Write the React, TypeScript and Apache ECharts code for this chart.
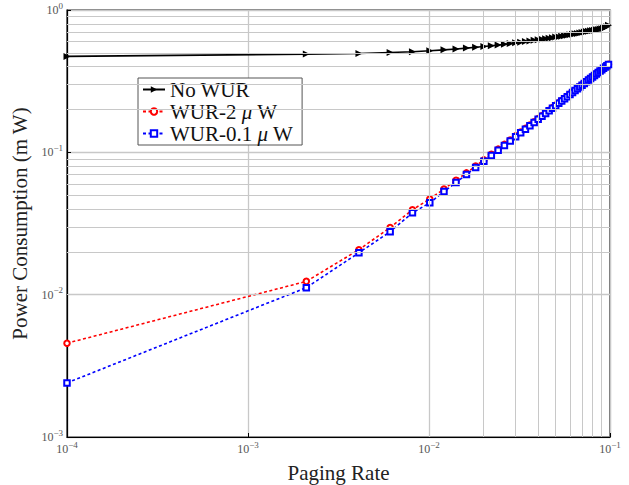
import React, { useEffect, useRef } from "react";
import * as echarts from "echarts";

const pagingRate = [0.0001, 0.0021, 0.0041, 0.0061, 0.0081, 0.0101, 0.0121, 0.0141, 0.0161, 0.0181, 0.0201, 0.0221, 0.0241, 0.0261, 0.0281, 0.0301, 0.0321, 0.0341, 0.0361, 0.0381, 0.0401, 0.0421, 0.0441, 0.0461, 0.0481, 0.0501, 0.0521, 0.0541, 0.0561, 0.0581, 0.0601, 0.0621, 0.0641, 0.0661, 0.0681, 0.0701, 0.0721, 0.0741, 0.0761, 0.0781, 0.0801, 0.0821, 0.0841, 0.0861, 0.0881, 0.0901, 0.0921, 0.0941, 0.0961, 0.0981];

const noWur = [0.472, 0.490, 0.495, 0.503, 0.509, 0.517, 0.525, 0.532, 0.540, 0.547, 0.554, 0.561, 0.568, 0.575, 0.581, 0.588, 0.594, 0.600, 0.606, 0.612, 0.618, 0.623, 0.628, 0.634, 0.639, 0.645, 0.650, 0.655, 0.660, 0.665, 0.670, 0.675, 0.680, 0.685, 0.690, 0.695, 0.700, 0.705, 0.710, 0.714, 0.718, 0.722, 0.726, 0.730, 0.734, 0.739, 0.745, 0.752, 0.762, 0.780];

const wur2 = [0.00456, 0.0124, 0.0207, 0.0296, 0.0395, 0.0470, 0.0553, 0.0637, 0.0717, 0.0801, 0.0885, 0.0969, 0.1053, 0.1137, 0.1221, 0.1305, 0.1389, 0.1473, 0.1557, 0.1641, 0.1725, 0.1809, 0.1893, 0.1977, 0.2061, 0.2145, 0.2229, 0.2313, 0.2397, 0.2481, 0.2565, 0.2649, 0.2733, 0.2817, 0.2901, 0.2985, 0.3069, 0.3153, 0.3237, 0.3321, 0.3405, 0.3489, 0.3573, 0.3657, 0.3741, 0.3825, 0.3909, 0.3993, 0.4077, 0.4161];

const wur01 = [0.0024, 0.0112, 0.0197, 0.0277, 0.0376, 0.0442, 0.0530, 0.0614, 0.0698, 0.0782, 0.0866, 0.0950, 0.1034, 0.1118, 0.1202, 0.1286, 0.1370, 0.1454, 0.1538, 0.1622, 0.1706, 0.1790, 0.1874, 0.1958, 0.2042, 0.2126, 0.2210, 0.2294, 0.2378, 0.2462, 0.2546, 0.2630, 0.2714, 0.2798, 0.2882, 0.2966, 0.3050, 0.3134, 0.3218, 0.3302, 0.3386, 0.3470, 0.3554, 0.3638, 0.3722, 0.3806, 0.3890, 0.3974, 0.4058, 0.4142];

const xMinor = [0.0002, 0.0003, 0.0004, 0.0005, 0.0006, 0.0007, 0.0008, 0.0009, 0.002, 0.003, 0.004, 0.005, 0.006, 0.007, 0.008, 0.009, 0.02, 0.03, 0.04, 0.05, 0.06, 0.07, 0.08, 0.09];
const yMinor = [0.002, 0.003, 0.004, 0.005, 0.006, 0.007, 0.008, 0.009, 0.02, 0.03, 0.04, 0.05, 0.06, 0.07, 0.08, 0.09, 0.2, 0.3, 0.4, 0.5, 0.6, 0.7, 0.8, 0.9];

const seriesNames = ["No WUR", "WUR-2 μ W", "WUR-0.1 μ W"];

const FONT = "'Liberation Serif', 'DejaVu Serif', serif";

function expLabel(v: number) {
  const e = Math.round(Math.log10(v));
  const s = e < 0 ? "\u2212" + Math.abs(e) : String(e);
  return `{b|10}{s|${s}}`;
}

const labelRich = {
  b: { fontSize: 12, fontFamily: FONT, color: "#555", lineHeight: 16 },
  s: { fontSize: 9, fontFamily: FONT, color: "#555", lineHeight: 16, padding: [0, 0, 9, 0] },
};

export default function App() {
  const ref = useRef<HTMLDivElement>(null);
  useEffect(() => {
    if (!ref.current) return;
    const chart = echarts.init(ref.current, null, { renderer: "svg" });
    const toPairs = (ys: number[]) => pagingRate.map((x, i) => [x, ys[i]]);
    const gridColor = "#c8c8c8";
    chart.setOption({
      animation: false,
      backgroundColor: "#fff",
      grid: {
        left: 67, right: 19, top: 10, bottom: 48,
        outerBoundsMode: "none",
        containLabel: false,
        show: true, borderColor: "#000", borderWidth: 1.2, backgroundColor: "transparent",
      },
      xAxis: {
        type: "log",
        logBase: 10,
        min: 0.0001,
        max: 0.1,
        name: "Paging Rate",
        nameLocation: "middle",
        nameGap: 14,
        nameTextStyle: { fontFamily: FONT, fontSize: 21, color: "#222", verticalAlign: "top" },
        axisLine: { show: true, lineStyle: { color: "#000", width: 1.2 } },
        axisTick: { show: true, inside: true, length: 4, lineStyle: { color: "#000" } },
        axisLabel: { formatter: expLabel, rich: labelRich, margin: 4 },
        splitLine: { show: true, lineStyle: { color: gridColor, width: 1.3 } },
      },
      yAxis: {
        type: "log",
        logBase: 10,
        min: 0.001,
        max: 1,
        name: "Power Consumption (m W)",
        nameLocation: "middle",
        nameGap: 37,
        nameTextStyle: { fontFamily: FONT, fontSize: 21, color: "#222" },
        axisLine: { show: true, lineStyle: { color: "#000", width: 1.2 } },
        axisTick: { show: true, inside: true, length: 4, lineStyle: { color: "#000" } },
        axisLabel: { formatter: expLabel, rich: labelRich, margin: 4 },
        splitLine: { show: true, lineStyle: { color: gridColor, width: 1.3 } },
      },
      legend: {
        data: seriesNames,
        left: 138,
        top: 78,
        orient: "vertical",
        backgroundColor: "#fff",
        borderColor: "#555",
        borderWidth: 1,
        borderRadius: 0,
        padding: [1, 9, 1, 4],
        itemGap: 1,
        itemWidth: 22,
        itemHeight: 8,
        formatter: (name: string) => name.replace("μ", "{i|μ}"),
        textStyle: {
          fontFamily: FONT,
          fontSize: 21,
          color: "#111",
          lineHeight: 21,
          rich: { i: { fontFamily: FONT, fontSize: 21, lineHeight: 21, fontStyle: "italic", color: "#111" } },
        },
      },
      series: [
        {
          name: "grid-minor",
          type: "line",
          data: [],
          z: 1,
          silent: true,
          markLine: {
            silent: true,
            symbol: "none",
            label: { show: false },
            lineStyle: { color: gridColor, width: 1, type: "solid" },
            data: [...xMinor.map((v) => ({ xAxis: v })), ...yMinor.map((v) => ({ yAxis: v }))],
          },
        },
        {
          name: seriesNames[0],
          type: "line",
          data: toPairs(noWur),
          color: "#000",
          lineStyle: { color: "#000", width: 1.6 },
          symbol: "triangle",
          symbolRotate: -90,
          symbolSize: 7,
          itemStyle: { color: "#000" },
          z: 3,
        },
        {
          name: seriesNames[1],
          type: "line",
          data: toPairs(wur2),
          color: "#ff0000",
          lineStyle: { color: "#ff0000", width: 1.6, type: [3, 2.5] },
          symbol: "emptyCircle",
          symbolSize: 5.5,
          itemStyle: { color: "#ff0000", borderWidth: 1.6 },
          z: 3,
        },
        {
          name: seriesNames[2],
          type: "line",
          data: toPairs(wur01),
          color: "#0000ff",
          lineStyle: { color: "#0000ff", width: 1.6, type: [3, 2.5] },
          symbol: "emptyRect",
          symbolSize: 5.5,
          itemStyle: { color: "#0000ff", borderWidth: 1.6 },
          z: 4,
        },
      ],
    });
    return () => chart.dispose();
  }, []);
  return <div ref={ref} style={{ position: "fixed", left: 0, top: 0, width: 629, height: 485 }} />;
}
